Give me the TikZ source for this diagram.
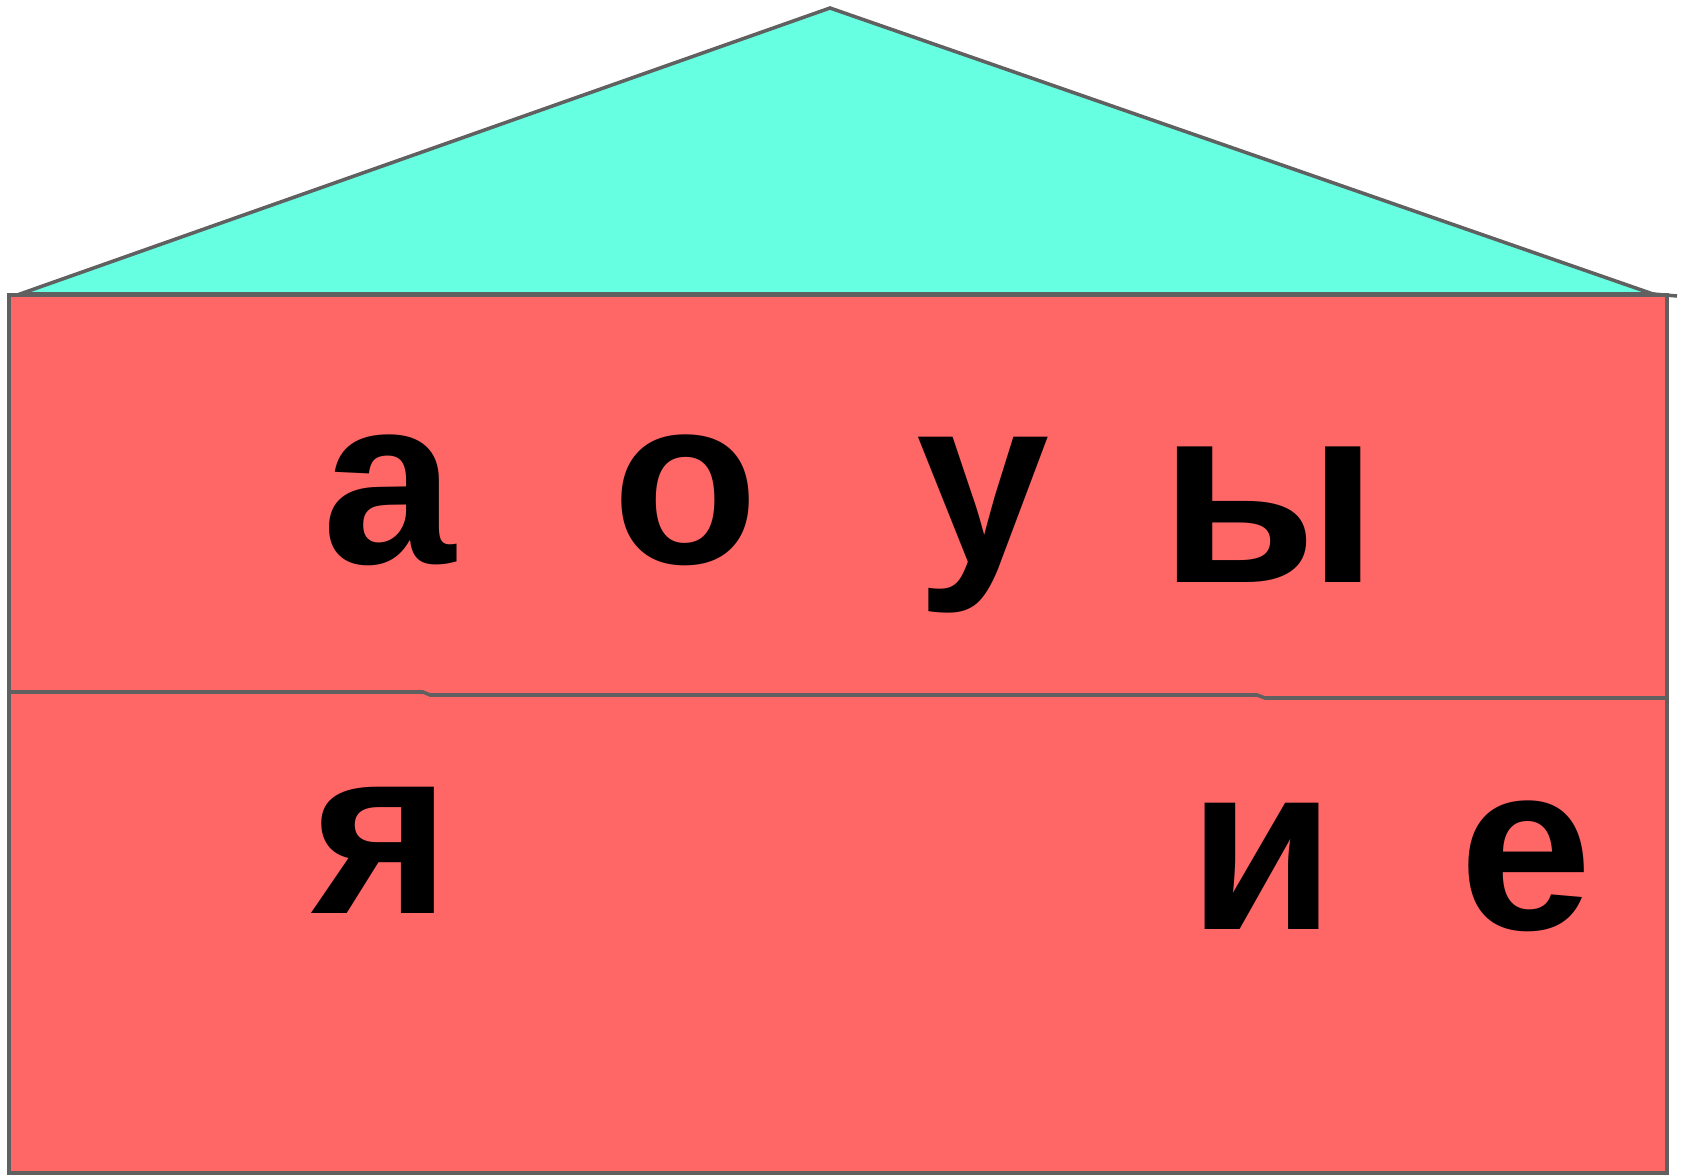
\documentclass[tikz,border=0pt]{standalone}
\usepackage{fontspec}
\setmainfont{Liberation Sans}
\usepackage{tikz}
\usetikzlibrary{positioning}
\definecolor{RoofAqua}{RGB}{102,255,226}
\definecolor{WallRed}{RGB}{255,102,102}
\definecolor{EdgeGray}{RGB}{96,96,96}

\begin{document}
\begin{tikzpicture}[x=0.01cm,y=-0.01cm,
        part/.style={draw=EdgeGray,line width=1pt,line join=miter},
        letter/.style={anchor=base,inner sep=0pt,text=black,
                       font=\fontsize{68}{68}\selectfont\bfseries},
        bigletter/.style={letter,font=\fontsize{73}{73}\selectfont\bfseries}
      ]
        \useasboundingbox (0,0) rectangle (1681,1176);
        % roof and wall
        \filldraw[part,fill=RoofAqua] (20,294) -- (830,8) -- (1653,294) -- cycle;
        \draw[part] (1653,294) -- (1677,296);
        \filldraw[part,fill=WallRed] (9,295) rectangle (1667,1173);
        \draw[part] (9,692) -- (423,692) -- (430,695) -- (1257,695)
          -- (1265,698) -- (1667,698);
        % upper floor
        \node[letter] (a) at (389,563) {а};
        \node[letter] (o) at (686,563) {о};
        \node[letter] (u) at (983,563) {у};
        \node[bigletter] (y) at (1269,582) {ы};
        % lower floor
        \node[letter] (ya) at (381,913) {я};
        \node[letter] (i) at (1262,929) {и};
        \node[letter] (e) at (1526,929) {е};
      \end{tikzpicture}
\end{document}
